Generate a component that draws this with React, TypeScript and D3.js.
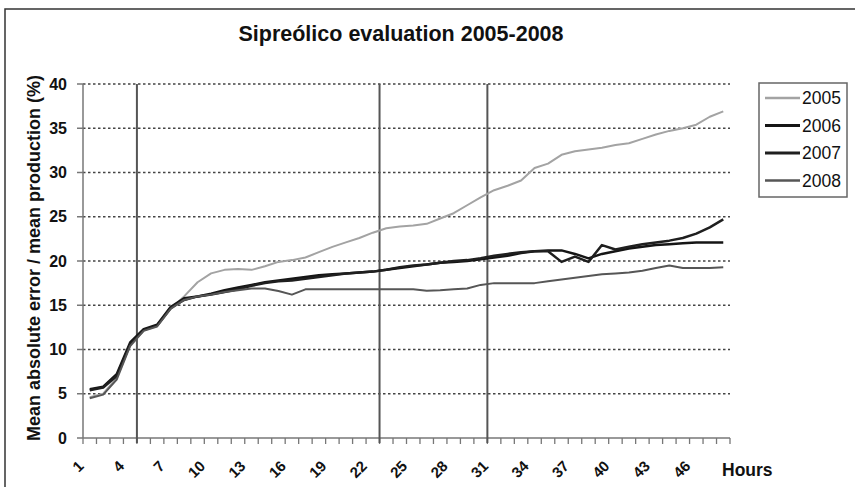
import React from 'react';
import * as d3 from 'd3';

// hourly mean absolute error / mean production (%) per year
const hours = d3.range(1, 49);
const years = ['2005', '2006', '2007', '2008'];

const s2005 = [4.6, 5.0, 6.8, 10.5, 12.2, 12.7, 14.6, 16.0, 17.6, 18.6, 19.0, 19.1, 19.0, 19.4, 19.9, 20.1,
  20.4, 21.0, 21.6, 22.1, 22.6, 23.2, 23.7, 23.9, 24.0, 24.2, 24.8, 25.4, 26.3, 27.2, 28.0, 28.5,
  29.1, 30.5, 31.0, 32.0, 32.4, 32.6, 32.8, 33.1, 33.3, 33.8, 34.3, 34.7, 35.0, 35.4, 36.3, 36.9];
const s2006 = [5.5, 5.8, 7.2, 10.8, 12.3, 12.8, 14.8, 15.8, 16.0, 16.3, 16.7, 17.0, 17.3, 17.6, 17.8, 18.0,
  18.2, 18.4, 18.5, 18.6, 18.7, 18.8, 19.0, 19.2, 19.4, 19.6, 19.8, 19.9, 20.0, 20.2, 20.4, 20.6,
  20.9, 21.1, 21.2, 21.2, 20.8, 20.3, 20.8, 21.1, 21.4, 21.6, 21.8, 21.9, 22.0, 22.1, 22.1, 22.1];
const s2007 = [5.4, 5.7, 7.0, 10.6, 12.2, 12.7, 14.7, 15.6, 16.0, 16.2, 16.5, 16.8, 17.2, 17.5, 17.7, 17.8,
  18.0, 18.2, 18.4, 18.6, 18.7, 18.8, 19.0, 19.3, 19.5, 19.6, 19.8, 20.0, 20.1, 20.3, 20.6, 20.8,
  21.0, 21.1, 21.1, 19.9, 20.5, 19.9, 21.8, 21.3, 21.6, 21.9, 22.1, 22.3, 22.6, 23.1, 23.8, 24.7];
const s2008 = [4.5, 4.9, 6.6, 10.4, 12.1, 12.6, 14.6, 15.6, 16.0, 16.2, 16.5, 16.7, 16.9, 16.9, 16.6, 16.2,
  16.8, 16.8, 16.8, 16.8, 16.8, 16.8, 16.8, 16.8, 16.8, 16.65, 16.7, 16.8, 16.9, 17.3, 17.5, 17.5,
  17.5, 17.5, 17.7, 17.9, 18.1, 18.3, 18.5, 18.6, 18.7, 18.9, 19.2, 19.5, 19.2, 19.2, 19.2, 19.3];

const yTicks = [0, 5, 10, 15, 20, 25, 30, 35, 40];
const xTickLabels = [1, 4, 7, 10, 13, 16, 19, 22, 25, 28, 31, 34, 37, 40, 43, 46];
// vertical reference lines, drawn at the start of these hours
const markerHours = [5, 23, 31];

const seriesList = [s2005, s2006, s2007, s2008];
const colors = ['#a3a3a3', '#151515', '#1f1f1f', '#565656'];
const widths = [2, 2.5, 2.5, 2];

const font = '"Liberation Sans", Arial, sans-serif';

export default function App() {
  const x = d3.scaleBand<number>().domain(hours).range([83, 730]).paddingInner(0).paddingOuter(0);
  const bw = x.bandwidth();
  const y = d3.scaleLinear().domain([0, 40]).range([438, 84]);
  const cx = (h: number) => (x(h) as number) + bw / 2;

  const line = d3.line<number>()
    .x((d, i) => cx(hours[i]))
    .y(d => y(d));

  const boundaries = hours.map(h => x(h) as number).concat([x.range()[1]]);

  return (
    <svg width={855} height={487} style={{ position: 'absolute', left: 0, top: 0, background: '#fff' }}
      fontFamily={font}>
      <rect x={5} y={9} width={900} height={600} fill="none" stroke="#333" strokeWidth={1.5} />

      <text x={401} y={41} textAnchor="middle" fontSize={21.5} fontWeight="bold" fill="#111">
        Sipreólico evaluation 2005-2008
      </text>

      {/* grid */}
      {yTicks.filter(t => t > 0).map(t => (
        <line key={'g' + t} x1={83} x2={730} y1={y(t)} y2={y(t)} stroke="#444" strokeWidth={1.4}
          strokeDasharray="2.5,2.5" />
      ))}

      {/* y axis */}
      <line x1={83} x2={83} y1={y(40)} y2={y(0)} stroke="#777" strokeWidth={1.5} />
      {yTicks.map(t => (
        <g key={'y' + t}>
          <line x1={77} x2={83} y1={y(t)} y2={y(t)} stroke="#777" strokeWidth={1.5} />
          <text x={67} y={y(t)} dy="0.35em" textAnchor="end" fontSize={16} fontWeight="bold" fill="#111">{t}</text>
        </g>
      ))}
      <text transform={`translate(40,258) rotate(-90)`} textAnchor="middle" fontSize={18} fontWeight="bold" fill="#111">
        Mean absolute error / mean production (%)
      </text>

      {/* x axis */}
      <line x1={83} x2={730} y1={y(0)} y2={y(0)} stroke="#777" strokeWidth={1.5} />
      {boundaries.map((b, i) => (
        <line key={'xt' + i} x1={b} x2={b} y1={y(0)} y2={y(0) + 6} stroke="#777" strokeWidth={1.3} />
      ))}
      {xTickLabels.map(h => (
        <text key={'xl' + h} transform={`translate(${cx(h) - 5},${467}) rotate(-45)`} textAnchor="end"
          fontSize={15} fontWeight="bold" fill="#111">{h}</text>
      ))}
      <text x={722} y={476} fontSize={17.5} fontWeight="bold" fill="#111">Hours</text>

      {/* reference lines */}
      {markerHours.map(h => (
        <line key={'m' + h} x1={x(h)} x2={x(h)} y1={y(40)} y2={y(0) + 5} stroke="#555" strokeWidth={2} />
      ))}

      {/* series */}
      {seriesList.map((s, i) => (
        <path key={years[i]} d={line(s) as string} fill="none" stroke={colors[i]} strokeWidth={widths[i]}
          strokeLinejoin="round" />
      ))}

      {/* legend */}
      <rect x={759} y={83} width={88} height={114} fill="#fff" stroke="#666" strokeWidth={1.5} />
      {years.map((yr, i) => (
        <g key={'lg' + yr} transform={`translate(0,${98 + i * 27.5})`}>
          <line x1={765} x2={800} y1={0} y2={0} stroke={colors[i]} strokeWidth={widths[i] + 0.5} />
          <text x={802} y={0} dy="0.35em" fontSize={17.5} fill="#111">{yr}</text>
        </g>
      ))}
    </svg>
  );
}
